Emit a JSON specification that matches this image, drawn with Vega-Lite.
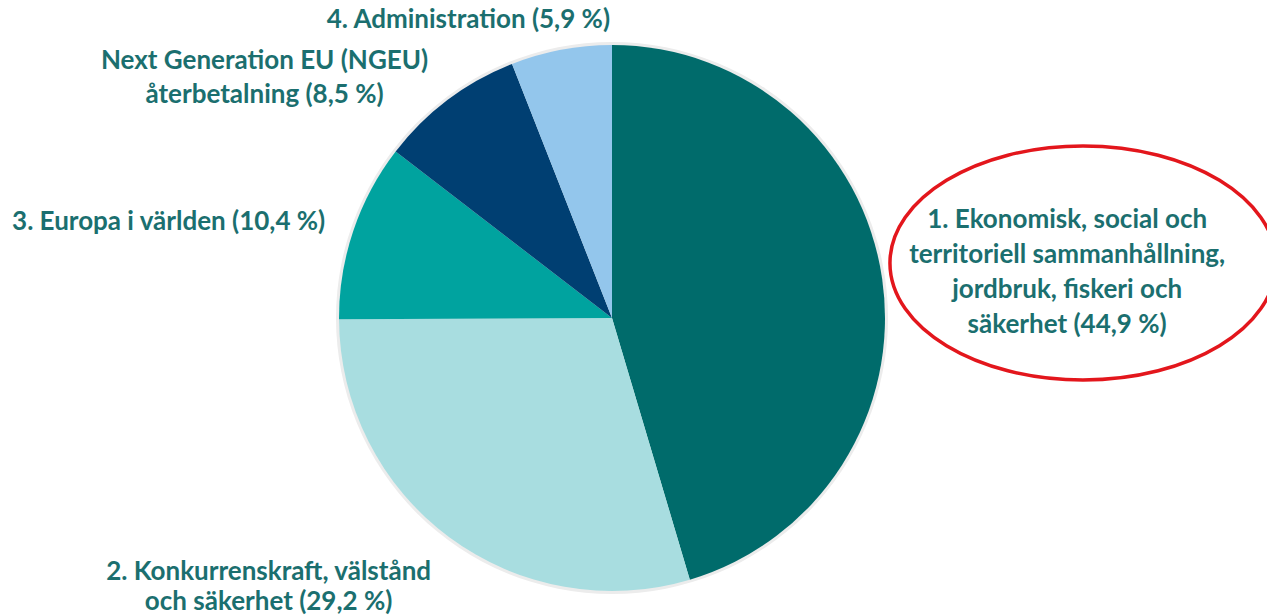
{
  "$schema": "https://vega.github.io/schema/vega-lite/v6.json",
  "width": 1224,
  "height": 616,
  "autosize": {"type": "none"},
  "padding": {"left": 0, "top": 10, "right": 43, "bottom": 0},
  "background": "white",
  "config": {"view": {"stroke": null}},
  "data": {
    "values": [
      {"nr": 1, "kategori": "1. Ekonomisk, social och territoriell sammanhållning, jordbruk, fiskeri och säkerhet", "andel": 44.9, "etikett": "1. Ekonomisk, social och\nterritoriell sammanhållning,\njordbruk, fiskeri och\nsäkerhet (44,9 %)"},
      {"nr": 2, "kategori": "2. Konkurrenskraft, välstånd och säkerhet", "andel": 29.2, "etikett": "2. Konkurrenskraft, välstånd\noch säkerhet (29,2 %)"},
      {"nr": 3, "kategori": "3. Europa i världen", "andel": 10.4, "etikett": "3. Europa i världen (10,4 %)"},
      {"nr": 4, "kategori": "Next Generation EU (NGEU) återbetalning", "andel": 8.5, "etikett": "Next Generation EU (NGEU)\nåterbetalning (8,5 %)"},
      {"nr": 5, "kategori": "4. Administration", "andel": 5.9, "etikett": "4. Administration (5,9 %)"}
    ]
  },
  "layer": [
    {
      "data": {"values": [{"skugga": 1}]},
      "mark": {"type": "arc", "outerRadius": 276, "color": "#ececec"},
      "encoding": {}
    },
    {
      "mark": {"type": "arc", "outerRadius": 273},
      "encoding": {
        "theta": {"field": "andel", "type": "quantitative", "stack": true},
        "order": {"field": "nr", "type": "quantitative"},
        "color": {
          "field": "kategori",
          "type": "nominal",
          "scale": {
            "domain": [
              "1. Ekonomisk, social och territoriell sammanhållning, jordbruk, fiskeri och säkerhet",
              "2. Konkurrenskraft, välstånd och säkerhet",
              "3. Europa i världen",
              "Next Generation EU (NGEU) återbetalning",
              "4. Administration"
            ],
            "range": ["#006b6b", "#a8dde0", "#00a39f", "#003f72", "#93c6ec"]
          },
          "legend": null
        }
      }
    },
    {
      "mark": {"type": "text", "radius": 466, "dx": -6, "dy": -31, "font": "Lato", "fontWeight": "bold", "fontSize": 26, "lineHeight": 35, "lineBreak": "\n", "align": "center", "baseline": "middle", "color": "#1b6f6f"},
      "encoding": {
        "theta": {"field": "andel", "type": "quantitative", "stack": true},
        "order": {"field": "nr", "type": "quantitative"},
        "text": {"condition": {"test": "datum.nr == 1", "field": "etikett"}, "value": ""}
      }
    },
    {
      "mark": {"type": "text", "radius": 400, "dx": -105, "dy": -67, "font": "Lato", "fontWeight": "bold", "fontSize": 26, "lineHeight": 30, "lineBreak": "\n", "align": "center", "baseline": "middle", "color": "#1b6f6f"},
      "encoding": {
        "theta": {"field": "andel", "type": "quantitative", "stack": true},
        "order": {"field": "nr", "type": "quantitative"},
        "text": {"condition": {"test": "datum.nr == 2", "field": "etikett"}, "value": ""}
      }
    },
    {
      "mark": {"type": "text", "radius": 450, "dx": -17, "dy": 48, "font": "Lato", "fontWeight": "bold", "fontSize": 26, "align": "center", "baseline": "middle", "color": "#1b6f6f"},
      "encoding": {
        "theta": {"field": "andel", "type": "quantitative", "stack": true},
        "order": {"field": "nr", "type": "quantitative"},
        "text": {"condition": {"test": "datum.nr == 3", "field": "etikett"}, "value": ""}
      }
    },
    {
      "mark": {"type": "text", "radius": 420, "dx": -95, "dy": 79, "font": "Lato", "fontWeight": "bold", "fontSize": 26, "lineHeight": 34, "lineBreak": "\n", "align": "center", "baseline": "middle", "color": "#1b6f6f"},
      "encoding": {
        "theta": {"field": "andel", "type": "quantitative", "stack": true},
        "order": {"field": "nr", "type": "quantitative"},
        "text": {"condition": {"test": "datum.nr == 4", "field": "etikett"}, "value": ""}
      }
    },
    {
      "mark": {"type": "text", "radius": 320, "dx": -84, "dy": 16, "font": "Lato", "fontWeight": "bold", "fontSize": 26, "align": "center", "baseline": "middle", "color": "#1b6f6f"},
      "encoding": {
        "theta": {"field": "andel", "type": "quantitative", "stack": true},
        "order": {"field": "nr", "type": "quantitative"},
        "text": {"condition": {"test": "datum.nr == 5", "field": "etikett"}, "value": ""}
      }
    },
    {
      "data": {"values": [{"markering": "1"}]},
      "mark": {
        "type": "point",
        "x": {"expr": "width / 2 + 471"},
        "y": {"expr": "height / 2 - 55"},
        "shape": "M -1.65 0 A 1.65 1 0 1 1 1.65 0 A 1.65 1 0 1 1 -1.65 0 Z",
        "size": 54756,
        "filled": false,
        "stroke": "#e3161c",
        "strokeWidth": 3.5,
        "opacity": 1
      },
      "encoding": {}
    }
  ]
}
